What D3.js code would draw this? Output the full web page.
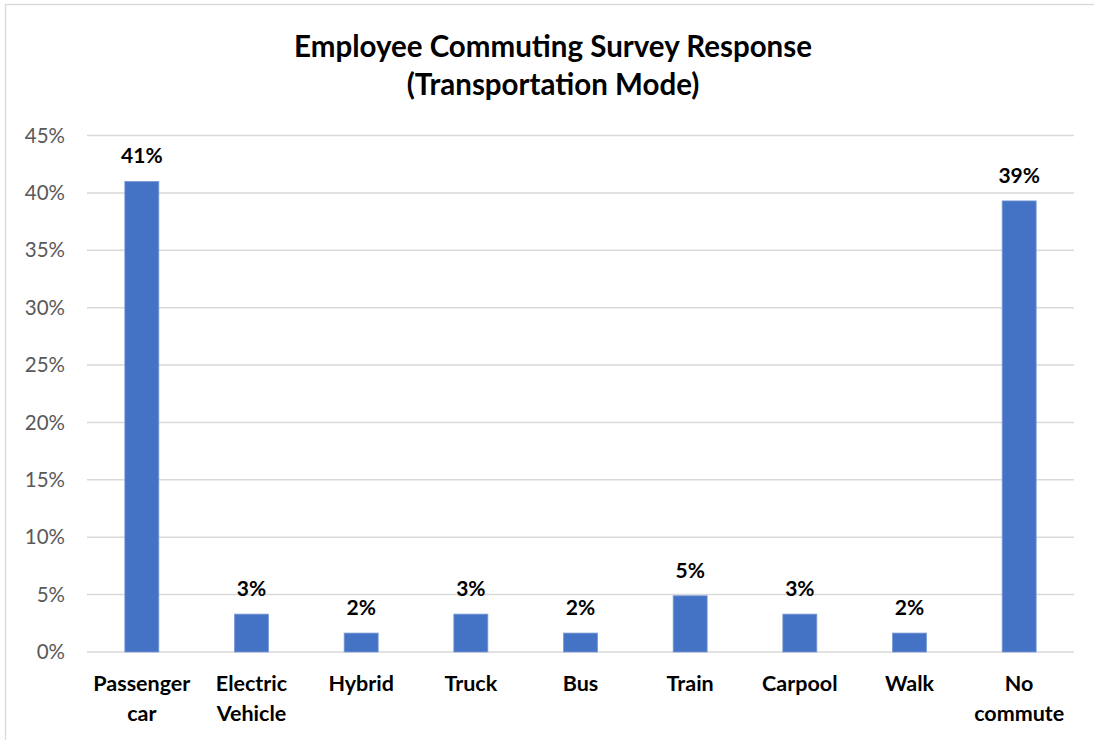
<!DOCTYPE html>
<html>
<head>
<meta charset="utf-8">
<script src="https://cdn.jsdelivr.net/npm/d3@7"></script>
<style>
  body { margin: 0; background: #fff; }
  svg { display: block; font-family: Lato, "Open Sans", sans-serif; }
</style>
</head>
<body>
<div id="chart"></div>
<script>
const TITLE_LINES = ["Employee Commuting Survey Response", "(Transportation Mode)"];
const CATEGORIES = [
  ["Passenger", "car"],
  ["Electric", "Vehicle"],
  ["Hybrid"],
  ["Truck"],
  ["Bus"],
  ["Train"],
  ["Carpool"],
  ["Walk"],
  ["No", "commute"]
];
const VALUES = [0.41, 0.033, 0.0165, 0.033, 0.0165, 0.049, 0.033, 0.0165, 0.393];
const Y_TICKS = [0, 0.05, 0.10, 0.15, 0.20, 0.25, 0.30, 0.35, 0.40, 0.45];

const W = 1094, H = 740;
const margin = {top: 135.5, right: 20, bottom: 88, left: 87};

const svg = d3.select("#chart").append("svg")
    .attr("width", W)
    .attr("height", H);

// chart frame
svg.append("rect")
    .attr("x", 5.5).attr("y", 4.5)
    .attr("width", W + 10).attr("height", H + 10)
    .attr("fill", "none")
    .attr("stroke", "#d9d9d9")
    .attr("stroke-width", 1.3);

const x = d3.scaleBand()
    .domain(d3.range(CATEGORIES.length))
    .range([margin.left, W - margin.right])
    .paddingInner(0.69)
    .paddingOuter(0.345);

const y = d3.scaleLinear()
    .domain([0, 0.45])
    .range([H - margin.bottom, margin.top]);

// gridlines
svg.append("g")
  .selectAll("line")
  .data(Y_TICKS)
  .join("line")
    .attr("x1", margin.left)
    .attr("x2", W - margin.right)
    .attr("y1", d => y(d))
    .attr("y2", d => y(d))
    .attr("stroke", "#d9d9d9")
    .attr("stroke-width", 1.5);

// y axis labels
const yAxis = d3.axisLeft(y)
    .tickValues(Y_TICKS)
    .tickFormat(d3.format(".0%"))
    .tickSize(0)
    .tickPadding(22);

svg.append("g")
    .attr("transform", "translate(" + margin.left + ",0)")
    .call(yAxis)
    .call(g => g.select(".domain").remove())
    .call(g => g.selectAll("text")
        .attr("font-family", "Lato, sans-serif")
        .attr("font-size", 20.5)
        .attr("fill", "#595959"));

// bars
svg.append("g")
  .selectAll("rect")
  .data(VALUES)
  .join("rect")
    .attr("x", (d, i) => x(i))
    .attr("y", d => y(d))
    .attr("width", x.bandwidth())
    .attr("height", d => y(0) - y(d))
    .attr("fill", "#4472c4")
    .attr("stroke", "#7b9bd6")
    .attr("stroke-width", 0.8);

// data labels
svg.append("g")
  .selectAll("text")
  .data(VALUES)
  .join("text")
    .attr("x", (d, i) => x(i) + x.bandwidth() / 2)
    .attr("y", d => y(d) - 18)
    .attr("text-anchor", "middle")
    .attr("font-size", 21)
    .attr("font-weight", "bold")
    .attr("fill", "#000")
    .text(d => d3.format(".0%")(d));

// category labels
const cat = svg.append("g")
  .selectAll("text")
  .data(CATEGORIES)
  .join("text")
    .attr("x", (d, i) => x(i) + x.bandwidth() / 2)
    .attr("y", H - margin.bottom + 39)
    .attr("text-anchor", "middle")
    .attr("font-size", 21.5)
    .attr("font-weight", "bold")
    .attr("fill", "#000");

cat.selectAll("tspan")
  .data(d => d)
  .join("tspan")
    .attr("x", function() { return this.parentNode.getAttribute("x"); })
    .attr("dy", (d, j) => j === 0 ? 0 : 30)
    .text(d => d);

// title
svg.append("g")
  .selectAll("text")
  .data(TITLE_LINES)
  .join("text")
    .attr("x", 553)
    .attr("y", (d, i) => 57 + i * 38)
    .attr("text-anchor", "middle")
    .attr("font-size", 29.5)
    .attr("font-weight", "bold")
    .attr("fill", "#000")
    .text(d => d);
</script>
</body>
</html>
